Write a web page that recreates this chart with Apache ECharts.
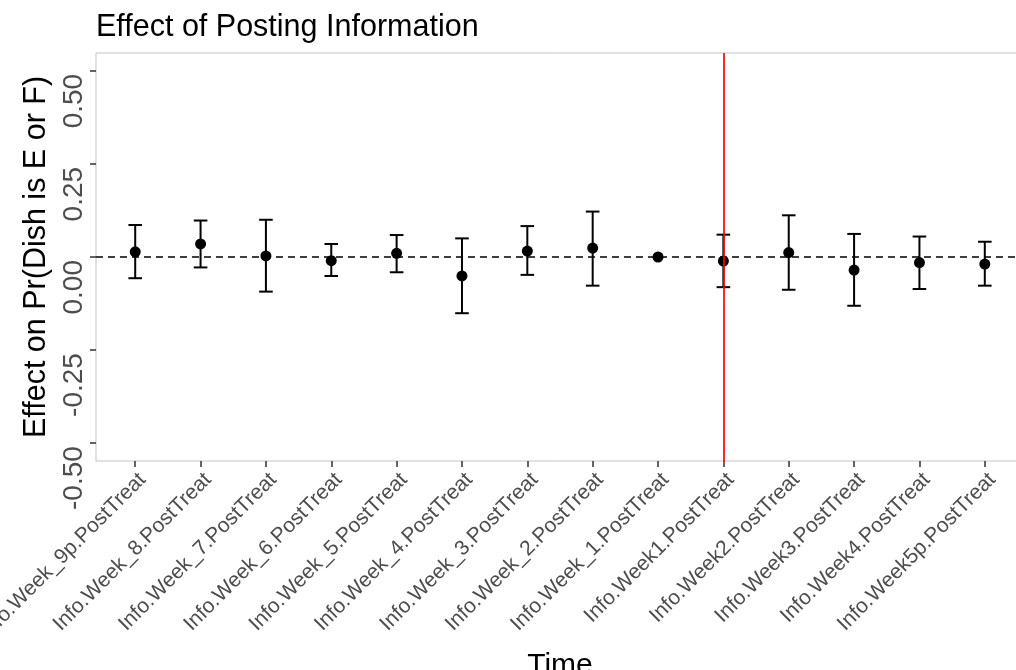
<!DOCTYPE html>
<html><head><meta charset="utf-8">
<script src="https://cdn.jsdelivr.net/npm/echarts@6/dist/echarts.min.js"></script>
<style>html,body{margin:0;padding:0;background:#fff}#c{width:1016px;height:670px}</style>
</head><body><div id="c"></div>
<script>
const categories = [
  'Info.Week_9p.PostTreat','Info.Week_8.PostTreat','Info.Week_7.PostTreat','Info.Week_6.PostTreat',
  'Info.Week_5.PostTreat','Info.Week_4.PostTreat','Info.Week_3.PostTreat','Info.Week_2.PostTreat',
  'Info.Week_1.PostTreat','Info.Week1.PostTreat','Info.Week2.PostTreat','Info.Week3.PostTreat',
  'Info.Week4.PostTreat','Info.Week5p.PostTreat'
];
const estimates = [0.014, 0.035, 0.003, -0.010, 0.010, -0.051, 0.016, 0.024, 0.000, -0.011, 0.012, -0.035, -0.015, -0.019];
const lowerCI   = [-0.057, -0.028, -0.093, -0.051, -0.041, -0.151, -0.048, -0.077, null, -0.081, -0.088, -0.131, -0.086, -0.077];
const upperCI   = [0.086, 0.098, 0.100, 0.035, 0.059, 0.050, 0.083, 0.122, null, 0.060, 0.112, 0.062, 0.055, 0.041];
const yTicks = [-0.5, -0.25, 0, 0.25, 0.5];
const treatmentStart = 'Info.Week1.PostTreat';
const referenceValue = 0;

const FONT = '"Liberation Sans", Arial, sans-serif';
const idx = categories.map((_, i) => i);
const chart = echarts.init(document.getElementById('c'), null, {renderer: 'canvas'});

const pointData = estimates.map((v, i) => [i, v]);
const barData = [];
idx.forEach(i => { if (lowerCI[i] !== null && upperCI[i] !== null) barData.push([i, lowerCI[i], upperCI[i]]); });

chart.setOption({
  animation: false,
  backgroundColor: '#ffffff',
  title: {
    text: 'Effect of Posting Information',
    left: 96, top: 12, padding: 0,
    textStyle: {fontFamily: FONT, fontSize: 30.5, fontWeight: 'normal', color: '#000'}
  },
  grid: {
    left: 96, right: -8, top: 53, bottom: 209,
    show: true, borderColor: '#C4C4C4', borderWidth: 1,
    outerBoundsMode: 'none', containLabel: false
  },
  xAxis: {
    type: 'value', min: -0.6, max: 13.6,
    name: 'Time', nameLocation: 'middle', nameGap: 190, nameMoveOverlap: false,
    nameTextStyle: {fontFamily: FONT, fontSize: 30, color: '#000', verticalAlign: 'top'},
    axisLine: {show: false, onZero: false},
    splitLine: {show: false},
    axisTick: {show: true, customValues: idx, length: 6, lineStyle: {color: '#333', width: 1.5}},
    axisLabel: {
      customValues: idx, rotate: 45, margin: 8,
      align: 'right', verticalAlign: 'top', padding: 0,
      fontFamily: FONT, fontSize: 21, color: '#4D4D4D',
      formatter: v => categories[Math.round(v)]
    }
  },
  yAxis: {
    type: 'value', min: -0.548, max: 0.548,
    name: 'Effect on Pr(Dish is E or F)', nameLocation: 'middle', nameGap: 44, nameMoveOverlap: false,
    nameTextStyle: {fontFamily: FONT, fontSize: 30.5, color: '#000'},
    axisLine: {show: false, onZero: false},
    splitLine: {show: false},
    axisTick: {show: true, customValues: yTicks, length: 6, lineStyle: {color: '#333', width: 1.5}},
    axisLabel: {
      customValues: yTicks, rotate: 90, margin: 8,
      align: 'right', verticalAlign: 'bottom', padding: [0, 3, 0, 0],
      fontFamily: FONT, fontSize: 28, color: '#4D4D4D',
      formatter: v => v.toFixed(2)
    }
  },
  series: [
    {
      type: 'scatter', data: [], silent: true, z: 1,
      markLine: {
        silent: true, symbol: 'none', label: {show: false},
        data: [
          {yAxis: referenceValue, lineStyle: {color: '#000', width: 1.7, type: [7, 5]}},
          {xAxis: categories.indexOf(treatmentStart), lineStyle: {color: '#FF0000', width: 1.7, type: 'solid'}}
        ]
      }
    },
    {
      type: 'custom', z: 3, silent: true,
      data: barData,
      encode: {x: 0, y: [1, 2]},
      renderItem: function (params, api) {
        const x = api.value(0), lo = api.value(1), hi = api.value(2);
        const pLo = api.coord([x, lo]), pHi = api.coord([x, hi]);
        const hw = 6.8;
        const st = {stroke: '#000', lineWidth: 2, fill: null};
        return {type: 'group', children: [
          {type: 'line', shape: {x1: pLo[0], y1: pLo[1], x2: pHi[0], y2: pHi[1]}, style: st},
          {type: 'line', shape: {x1: pHi[0] - hw, y1: pHi[1], x2: pHi[0] + hw, y2: pHi[1]}, style: st},
          {type: 'line', shape: {x1: pLo[0] - hw, y1: pLo[1], x2: pLo[0] + hw, y2: pLo[1]}, style: st}
        ]};
      }
    },
    {
      type: 'scatter', z: 4, silent: true,
      data: pointData, symbol: 'circle', symbolSize: 11,
      itemStyle: {color: '#000', opacity: 1}
    }
  ]
});
</script>
</body></html>
